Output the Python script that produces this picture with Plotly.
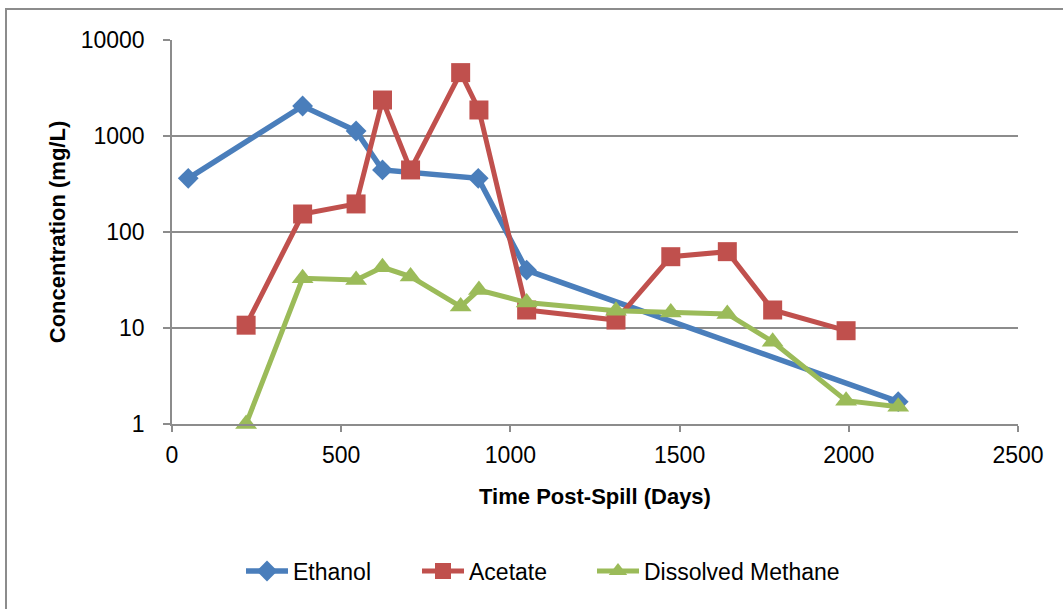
import plotly.graph_objects as go

# Data
ethanol_days = [48, 386, 544, 622, 905, 1048, 2146]
ethanol_conc = [362, 2053, 1128, 443, 362, 40, 1.71]

acetate_days = [219, 386, 544, 622, 705, 853, 907, 1048, 1312, 1474, 1641, 1775, 1992]
acetate_conc = [10.7, 154, 196, 2371, 443, 4573, 1866, 15.4, 12.1, 55.3, 62.4, 15.4, 9.37]

methane_days = [219, 386, 544, 622, 705, 853, 907, 1048, 1312, 1474, 1641, 1775, 1992, 2146]
methane_conc = [1.0, 32.9, 31.6, 42.9, 34.3, 16.7, 24.9, 18.4, 15.1, 14.5, 14.0, 7.2, 1.75, 1.51]

y_tickvals = [1, 10, 100, 1000, 10000]
y_ticktext = ["1", "10", "100", "1000", "10000"]
x_tickvals = [0, 500, 1000, 1500, 2000, 2500]

FONT = "Liberation Sans"
GRID = "#8c8c8c"
FS = 23

fig = go.Figure()
fig.add_trace(go.Scatter(
    x=ethanol_days, y=ethanol_conc, name="Ethanol", mode="lines+markers",
    line=dict(color="#4a7ebb", width=5.5),
    marker=dict(symbol="diamond", size=16, color="#4a7ebb"),
    cliponaxis=False, legend="legend"))
fig.add_trace(go.Scatter(
    x=acetate_days, y=acetate_conc, name="Acetate", mode="lines+markers",
    line=dict(color="#c0504d", width=5),
    marker=dict(symbol="square", size=19, color="#c0504d"),
    cliponaxis=False, legend="legend2"))
fig.add_trace(go.Scatter(
    x=methane_days, y=methane_conc, name="Dissolved Methane", mode="lines+markers",
    line=dict(color="#9bbb59", width=5),
    marker=dict(symbol="triangle-up", size=19, color="#9bbb59"),
    cliponaxis=False, legend="legend3"))

def leg(px):
    return dict(orientation="h", x=(px - 172) / 846, xanchor="left", y=-0.383, yanchor="middle",
                font=dict(family=FONT, size=FS), itemwidth=42, bgcolor="rgba(0,0,0,0)")

fig.update_layout(
    width=1063, height=609,
    margin=dict(l=172, r=45, t=40, b=185),
    paper_bgcolor="white", plot_bgcolor="white",
    font=dict(family=FONT, size=FS, color="black"),
    showlegend=True,
    legend=leg(241), legend2=leg(417), legend3=leg(592),
    xaxis=dict(range=[0, 2500], tickmode="array", tickvals=x_tickvals,
               showgrid=False, zeroline=False, showline=True, linecolor=GRID, linewidth=1.5,
               ticks="outside", ticklen=6, tickcolor=GRID, tickwidth=1.5,
               tickfont=dict(family=FONT, size=FS), ticklabelstandoff=4,
               title=dict(text="<b>Time Post-Spill (Days)</b>", font=dict(family=FONT, size=22), standoff=21)),
    yaxis=dict(type="log", range=[0, 4], tickmode="array", tickvals=y_tickvals, ticktext=y_ticktext,
               showgrid=True, gridcolor=GRID, gridwidth=1.5, zeroline=False,
               showline=True, linecolor=GRID, linewidth=1.5,
               ticks="outside", ticklen=7, tickcolor=GRID, tickwidth=1.5,
               tickfont=dict(family=FONT, size=FS), ticklabelstandoff=14,
               title=dict(text="<b>Concentration (mg/L)</b>", font=dict(family=FONT, size=22), standoff=9)),
)

fig.add_shape(type="rect", xref="paper", yref="paper",
              x0=(6 - 172) / 846, x1=1.2, y0=-0.7, y1=(424 - 9) / 384,
              line=dict(color=GRID, width=2), fillcolor="rgba(0,0,0,0)", layer="below")

fig.write_html("out.html")
